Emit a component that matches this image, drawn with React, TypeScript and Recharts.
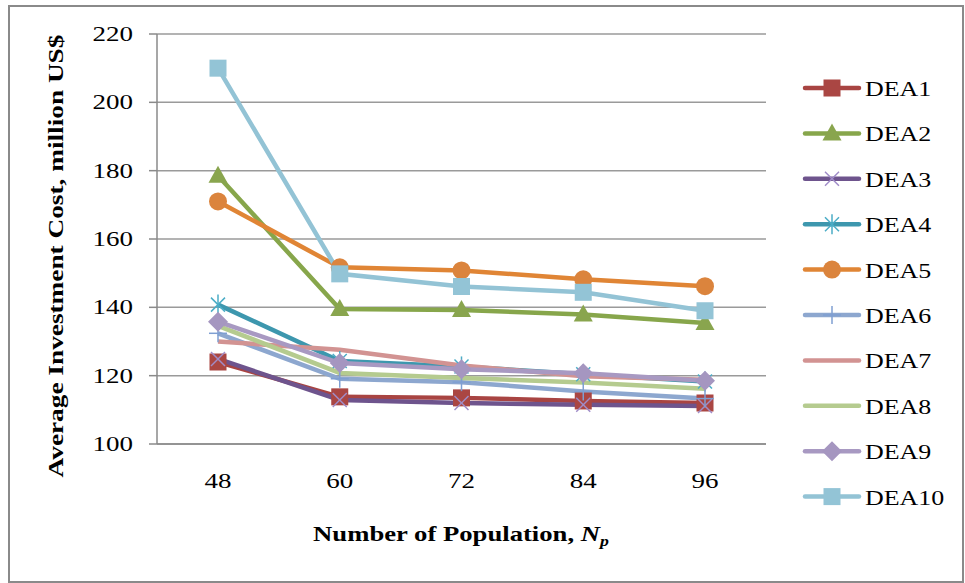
import { LineChart, Line, XAxis, YAxis, CartesianGrid } from 'recharts';

const categories = ['48', '60', '72', '84', '96'];

const dea1 = [124.0, 113.8, 113.5, 112.6, 112.0];
const dea2 = [178.5, 139.5, 139.2, 137.9, 135.4];
const dea3 = [124.9, 112.9, 112.0, 111.5, 111.1];
const dea4 = [140.8, 124.3, 122.7, 120.4, 118.3];
const dea5 = [171.0, 151.7, 150.8, 148.2, 146.2];
const dea6 = [132.4, 119.1, 118.1, 115.4, 113.3];
const dea7 = [130.0, 127.6, 123.0, 119.8, 118.8];
const dea8 = [134.6, 120.8, 119.3, 118.0, 116.2];
const dea9 = [135.8, 123.7, 121.9, 120.7, 118.5];
const dea10 = [210.0, 149.8, 146.1, 144.4, 139.0];

const yTicks = [100, 120, 140, 160, 180, 200, 220];

type Shape = 'square' | 'triangle' | 'x' | 'star' | 'circle' | 'plus' | 'diamond' | 'none';

const series: { key: string; values: number[]; color: string; markColor: string; shape: Shape }[] = [
  { key: 'DEA1', values: dea1, color: '#a84442', markColor: '#aa4643', shape: 'square' },
  { key: 'DEA2', values: dea2, color: '#87a64b', markColor: '#89a54e', shape: 'triangle' },
  { key: 'DEA3', values: dea3, color: '#6e548d', markColor: '#a08cc8', shape: 'x' },
  { key: 'DEA4', values: dea4, color: '#3d97ae', markColor: '#4bacc6', shape: 'star' },
  { key: 'DEA5', values: dea5, color: '#e08535', markColor: '#db843d', shape: 'circle' },
  { key: 'DEA6', values: dea6, color: '#8da7cf', markColor: '#7f9fd2', shape: 'plus' },
  { key: 'DEA7', values: dea7, color: '#d29392', markColor: '#d29392', shape: 'none' },
  { key: 'DEA8', values: dea8, color: '#b5cb8f', markColor: '#b5cb8f', shape: 'none' },
  { key: 'DEA9', values: dea9, color: '#a899c2', markColor: '#a596c0', shape: 'diamond' },
  { key: 'DEA10', values: dea10, color: '#93c3d5', markColor: '#93c4d6', shape: 'square' },
];

const data = categories.map((np, i) => {
  const row: Record<string, string | number> = { np };
  series.forEach((s) => (row[s.key] = s.values[i]));
  return row;
});

const FONT = '"Liberation Serif", "Times New Roman", serif';

function Marker({ shape, cx, cy, color }: { shape: Shape; cx: number; cy: number; color: string }) {
  switch (shape) {
    case 'square':
      return <rect x={cx - 8.5} y={cy - 8.5} width={17} height={17} fill={color} />;
    case 'triangle':
      return <polygon points={`${cx},${cy - 10} ${cx + 9.5},${cy + 7} ${cx - 9.5},${cy + 7}`} fill={color} />;
    case 'circle':
      return <circle cx={cx} cy={cy} r={9} fill={color} />;
    case 'diamond':
      return <polygon points={`${cx},${cy - 10} ${cx + 10},${cy} ${cx},${cy + 10} ${cx - 10},${cy}`} fill={color} />;
    case 'x':
      return (
        <g stroke={color} strokeWidth={1.5}>
          <line x1={cx - 7} y1={cy - 7} x2={cx + 7} y2={cy + 7} />
          <line x1={cx - 7} y1={cy + 7} x2={cx + 7} y2={cy - 7} />
        </g>
      );
    case 'star':
      return (
        <g stroke={color} strokeWidth={1.5}>
          <line x1={cx - 7} y1={cy - 7} x2={cx + 7} y2={cy + 7} />
          <line x1={cx - 7} y1={cy + 7} x2={cx + 7} y2={cy - 7} />
          <line x1={cx} y1={cy - 10} x2={cx} y2={cy + 10} />
        </g>
      );
    case 'plus':
      return (
        <g stroke={color} strokeWidth={1.5}>
          <line x1={cx} y1={cy - 9} x2={cx} y2={cy + 9} />
          <line x1={cx - 9} y1={cy} x2={cx + 9} y2={cy} />
        </g>
      );
    default:
      return <g />;
  }
}

function YTick(props: any) {
  const { x, y, payload } = props;
  return (
    <text
      transform={`translate(${x},${y + 7}) scale(1.35,1)`}
      textAnchor="end"
      fontFamily={FONT}
      fontSize={20}
      fill="#000"
    >
      {payload.value}
    </text>
  );
}

function XTick(props: any) {
  const { x, y, payload } = props;
  return (
    <text
      transform={`translate(${x},${y}) scale(1.35,1)`}
      textAnchor="middle"
      fontFamily={FONT}
      fontSize={20}
      fill="#000"
    >
      {payload.value}
    </text>
  );
}

function Legend() {
  return (
    <svg width={200} height={583} style={{ position: 'absolute', left: 790, top: 0 }}>
      {series.map((s, i) => {
        const cy = 88 + i * 45.4;
        return (
          <g key={s.key}>
            <line x1={15} y1={cy} x2={69} y2={cy} stroke={s.color} strokeWidth={4.5} strokeLinecap="round" />
            <Marker shape={s.shape} cx={42} cy={cy} color={s.markColor} />
            <text
              transform={`translate(75,${cy + 8}) scale(1.18,1)`}
              fontFamily={FONT}
              fontSize={22}
              fill="#000"
            >
              {s.key}
            </text>
          </g>
        );
      })}
    </svg>
  );
}

export default function App() {
  return (
    <div style={{ position: 'absolute', left: 0, top: 0, width: 965, height: 583, background: '#fff' }}>
      <div
        style={{
          position: 'absolute',
          left: 8,
          top: 5,
          width: 952,
          height: 574,
          border: '2px solid #8a8a8a',
        }}
      />
      <div style={{ position: 'absolute', left: 0, top: 0 }}>
        <LineChart width={965} height={583} data={data} margin={{ top: 34, right: 199, bottom: 99, left: 57 }}>
          <CartesianGrid vertical={false} stroke="#9a9a9a" strokeWidth={1.5} />
          <XAxis
            dataKey="np"
            height={40}
            padding={{ left: 61, right: 61 }}
            axisLine={{ stroke: '#8a8a8a', strokeWidth: 1.5 }}
            tickLine={false}
            tickSize={0}
            tickMargin={44}
            tick={<XTick />}
            label={{
              position: 'insideBottom',
              content: () => (
                <text
                  transform="translate(461,541) scale(1.27,1)"
                  textAnchor="middle"
                  fontFamily={FONT}
                  fontSize={21}
                  fontWeight="bold"
                  fill="#000"
                >
                  Number of Population,{' '}
                  <tspan fontStyle="italic">N</tspan>
                  <tspan fontStyle="italic" fontSize={14} dy={5}>
                    p
                  </tspan>
                </text>
              ),
            }}
          />
          <YAxis
            width={100}
            domain={[100, 220]}
            ticks={yTicks}
            interval={0}
            axisLine={{ stroke: '#8a8a8a', strokeWidth: 1.5 }}
            tickLine={{ stroke: '#8a8a8a', strokeWidth: 1.5 }}
            tickSize={8}
            tickMargin={16}
            tick={<YTick />}
            label={{
              position: 'insideLeft',
              content: () => (
                <text
                  transform="translate(63,256) rotate(-90) scale(1.3,1)"
                  textAnchor="middle"
                  fontFamily={FONT}
                  fontSize={21}
                  fontWeight="bold"
                  fill="#000"
                >
                  Average Investment Cost, million US$
                </text>
              ),
            }}
          />
          {series.map((s) => (
            <Line
              key={s.key}
              type="linear"
              dataKey={s.key}
              stroke={s.color}
              strokeWidth={4.5}
              isAnimationActive={false}
              activeDot={false}
              dot={
                s.shape === 'none'
                  ? false
                  : (p: any) => (
                      <Marker key={`${s.key}-${p.index}`} shape={s.shape} cx={p.cx} cy={p.cy} color={s.markColor} />
                    )
              }
            />
          ))}
        </LineChart>
      </div>
      <Legend />
    </div>
  );
}
